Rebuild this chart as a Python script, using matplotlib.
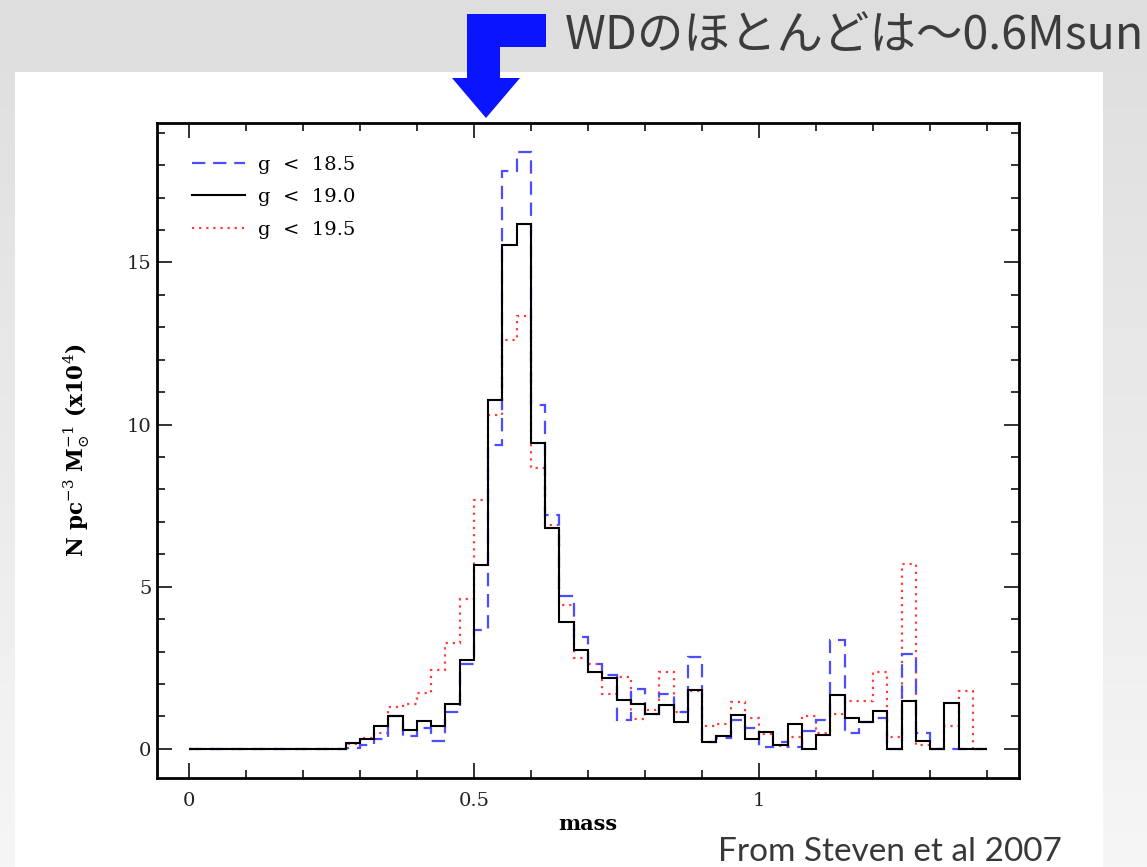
import matplotlib.pyplot as plt
import numpy as np
from matplotlib.colors import LinearSegmentedColormap
from matplotlib.patches import Polygon, Rectangle
from matplotlib.ticker import MultipleLocator

# mass bins: 0 .. 1.4 in steps of 0.025
bin_width = 0.025
mass_edges = np.arange(0, 1.4 + bin_width / 2, bin_width)

# N pc^-3 Msun^-1 (x10^4) per bin
g185 = [0, 0, 0, 0, 0, 0, 0, 0, 0, 0, 0,
        0.04, 0.12, 0.31, 1.02, 0.38, 0.64, 0.24, 1.15, 2.62, 3.66,
        9.38, 17.82, 18.42, 10.59, 7.2, 4.70, 3.46, 2.62, 2.28, 0.9,
        1.83, 1.07, 1.68, 1.15, 2.83, 0.22, 0.32, 0.88, 0.63, 0.05,
        0.22, 0.05, 0.55, 0.9, 3.36, 0.48, 0.84, 0.96, 0, 2.93,
        0.5, 0, 0, 0, 0]
g190 = [0, 0, 0, 0, 0, 0, 0, 0, 0, 0, 0,
        0.18, 0.29, 0.69, 1.0, 0.59, 0.86, 0.71, 1.38, 2.74, 5.67,
        10.75, 15.55, 16.2, 9.43, 6.8, 3.9, 3.06, 2.38, 2.19, 1.52,
        1.37, 1.07, 1.34, 0.82, 1.8, 0.2, 0.38, 1.03, 0.3, 0.52,
        0.13, 0.77, 0, 0.43, 1.66, 0.95, 0.83, 1.17, 0, 1.49,
        0.25, 0, 1.42, 0, 0]
g195 = [0, 0, 0, 0, 0, 0, 0, 0, 0, 0, 0,
        0.15, 0.33, 0.5, 1.3, 1.38, 1.71, 2.44, 3.25, 4.61, 7.68,
        10.28, 12.62, 13.34, 8.65, 6.9, 4.44, 2.8, 2.61, 1.69, 2.22,
        0.92, 1.2, 2.37, 1.15, 1.77, 0.7, 0.77, 1.45, 0.94, 0.45,
        0.1, 0.37, 1.0, 0.5, 1.07, 1.46, 1.48, 2.38, 0.35, 5.71,
        0.12, 0, 0.71, 1.77, 0]
labels = ['g  <  18.5', 'g  <  19.0', 'g  <  19.5']

plt.rcParams['mathtext.fontset'] = 'dejavuserif'
serif = 'DejaVu Serif'

W, H = 1147, 867
fig = plt.figure(figsize=(W / 100, H / 100), dpi=100)


def fx(px):
    return px / W


def fy(py):
    return 1 - py / H


# slide background
bg = fig.add_axes([0, 0, 1, 1])
grad = np.linspace(0, 1, 256).reshape(-1, 1)
cmap = LinearSegmentedColormap.from_list('slide', ['#dedede', '#f6f6f6'])
bg.imshow(grad, aspect='auto', cmap=cmap, extent=[0, 1, 0, 1], origin='upper')
bg.axis('off')
fig.patches.append(Rectangle((fx(15), 0), fx(1103) - fx(15), fy(72), transform=fig.transFigure,
                             facecolor='white', edgecolor='none', zorder=1))

# arrow + heading
arrow = [(467, 14), (546, 14), (546, 47), (500, 47), (500, 78), (520, 78),
         (486, 118), (452, 78), (467, 78)]
fig.patches.append(Polygon([(fx(x), fy(y)) for x, y in arrow], closed=True, transform=fig.transFigure,
                           facecolor='#0a14ff', edgecolor='none', zorder=3))
fig.text(fx(565), fy(36), 'WDのほとんどは〜0.6Msun', family=['Noto Sans CJK JP', 'DejaVu Sans'],
         fontsize=33.5, color='#3c3c3c', ha='left', va='center', zorder=4)
fig.text(fx(718), fy(852), 'From Steven et al 2007', family=['Lato', 'DejaVu Sans'],
         fontsize=24, color='#383838', ha='left', va='center', zorder=4)

# histogram panel
ax = fig.add_axes([fx(157), fy(778), fx(1019) - fx(157), fy(123) - fy(778)], zorder=2)
ax.patch.set_alpha(0)
h_red = ax.stairs(g195, mass_edges, color='#ff3b3b', ls=(0, (1, 2.2)), lw=1.6, label=labels[2])
h_blue = ax.stairs(g185, mass_edges, color='#4d4dff', ls=(0, (6, 3.5)), lw=1.6, label=labels[0])
h_black = ax.stairs(g190, mass_edges, color='black', lw=1.5, label=labels[1])

ax.set_xlim(-0.056, 1.456)
ax.set_ylim(-0.9, 19.3)
ax.set_xticks([0, 0.5, 1])
ax.set_xticklabels(['0', '0.5', '1'])
ax.set_yticks([0, 5, 10, 15])
ax.xaxis.set_minor_locator(MultipleLocator(0.1))
ax.yaxis.set_minor_locator(MultipleLocator(1))
ax.tick_params(which='both', direction='in', top=True, right=True, width=1.3, colors='#222222')
ax.tick_params(which='major', length=11)
ax.tick_params(which='minor', length=5.5)
ax.tick_params(axis='x', which='major', pad=10)
ax.tick_params(axis='y', which='major', pad=4)
for lab in ax.get_xticklabels() + ax.get_yticklabels():
    lab.set_family(serif)
    lab.set_fontsize(14)
for sp in ax.spines.values():
    sp.set_linewidth(2)

ax.set_xlabel('mass', family=serif, fontsize=15, fontweight='bold', labelpad=3)
ax.set_ylabel(r'N pc$^{-3}$ M$_{\odot}^{-1}$ (x10$^{4}$)', family=serif, fontsize=15.5,
              fontweight='bold', labelpad=25)

ax.legend(handles=[h_blue, h_black, h_red], loc='upper left', frameon=False, handlelength=2.7,
          handletextpad=0.7, prop={'family': serif, 'size': 14}, labelspacing=0.75,
          bbox_to_anchor=(0.032, 0.962), borderaxespad=0)

fig.savefig('out.png', dpi=100)
